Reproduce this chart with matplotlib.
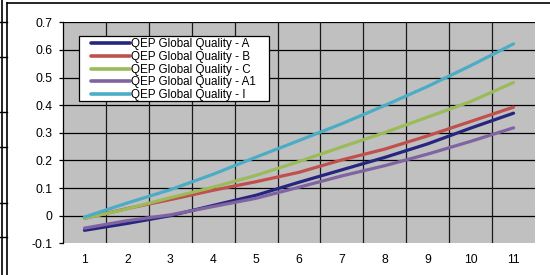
import matplotlib
matplotlib.use("Agg")
import matplotlib.pyplot as plt
from matplotlib.lines import Line2D
from matplotlib.patches import Rectangle

plt.rcParams['font.family'] = ['Liberation Sans', 'DejaVu Sans']

categories = [1, 2, 3, 4, 5, 6, 7, 8, 9, 10, 11]
series_names = ["QEP Global Quality - A", "QEP Global Quality - B", "QEP Global Quality - C",
                "QEP Global Quality - A1", "QEP Global Quality - I"]
vals_A = [-0.053, -0.028, 0.000, 0.037, 0.074, 0.121, 0.166, 0.211, 0.260, 0.317, 0.371]
vals_B = [-0.010, 0.026, 0.058, 0.092, 0.123, 0.157, 0.202, 0.241, 0.289, 0.341, 0.393]
vals_C = [-0.010, 0.025, 0.065, 0.103, 0.146, 0.196, 0.249, 0.301, 0.357, 0.413, 0.482]
vals_A1 = [-0.045, -0.018, 0.003, 0.033, 0.063, 0.103, 0.144, 0.181, 0.223, 0.269, 0.318]
vals_I = [-0.005, 0.046, 0.094, 0.150, 0.212, 0.272, 0.333, 0.399, 0.468, 0.543, 0.622]
y_ticks = [-0.1, 0, 0.1, 0.2, 0.3, 0.4, 0.5, 0.6, 0.7]
y_tick_labels = ["-0.1", "0", "0.1", "0.2", "0.3", "0.4", "0.5", "0.6", "0.7"]

colors = ["#262680", "#C0504D", "#9BBB59", "#8064A2", "#4BACC6"]

W, H = 550, 275
fig = plt.figure(figsize=(5.5, 2.75), dpi=100)
fig.patch.set_facecolor("white")

def fx(px):
    return px / W

def fy(py):
    return 1 - py / H

ax = fig.add_axes([fx(63), fy(243.3), fx(535) - fx(63), fy(22.3) - fy(243.3)])
ax.set_facecolor("#C0C0C0")
ax.set_xlim(0.5, 11.5)
ax.set_ylim(-0.1, 0.7)

# gridlines
for yv in y_ticks[1:]:
    ax.axhline(yv, color="black", lw=0.9, zorder=1)
for k in range(1, len(categories)):
    ax.axvline(k + 0.5, color="#1a1a1a", lw=0.9, zorder=1)

all_vals = [vals_A, vals_B, vals_C, vals_A1, vals_I]
for name, v, c in zip(series_names, all_vals, colors):
    ax.plot(categories, v, color=c, lw=2.3, solid_capstyle="round",
            solid_joinstyle="round", label=name, zorder=3)

for s in ["top", "right", "bottom"]:
    ax.spines[s].set_visible(False)
ax.spines["left"].set_color("black")
ax.spines["left"].set_linewidth(0.9)

ax.set_yticks(y_ticks)
ax.set_yticklabels(y_tick_labels)
ax.set_xticks(categories)
ax.set_xticklabels([str(c) for c in categories])
ax.tick_params(axis="y", length=3, width=0.9, direction="out", pad=4.5, labelsize=8.7)
ax.tick_params(axis="x", length=0, pad=7.5, labelsize=8.7)

# legend box (drawn as a rectangle) + legend entries
box = Rectangle((fx(79), fy(101)), fx(269) - fx(79), fy(36) - fy(101), transform=fig.transFigure,
                facecolor="white", edgecolor="black", lw=0.9, zorder=4.5)
ax.add_artist(box)
leg = ax.legend(loc="upper left", bbox_to_anchor=(fx(91), fy(38.5)), bbox_transform=fig.transFigure,
                borderaxespad=0, frameon=False, fontsize=8.4,
                handlelength=3.3, handletextpad=0.15, labelspacing=0.05, borderpad=0)
leg.set_zorder(5)
for h in leg.get_lines():
    h.set_linewidth(2.6)

# outer chart frame and leftover table borders
fig.add_artist(Line2D([fx(7), fx(7)], [fy(3), 0], color="black", lw=1.2))
fig.add_artist(Line2D([fx(7), 1], [fy(3), fy(3)], color="black", lw=1.2))
fig.add_artist(Line2D([fx(1.5), fx(1.5)], [1, 0], color="black", lw=1.2))
for yy in [21.7, 56.7, 111.7, 146.7, 202.7, 237.3]:
    fig.add_artist(Line2D([0, fx(7)], [fy(yy), fy(yy)], color="black", lw=1.0))

fig.savefig("out.png", dpi=100)
